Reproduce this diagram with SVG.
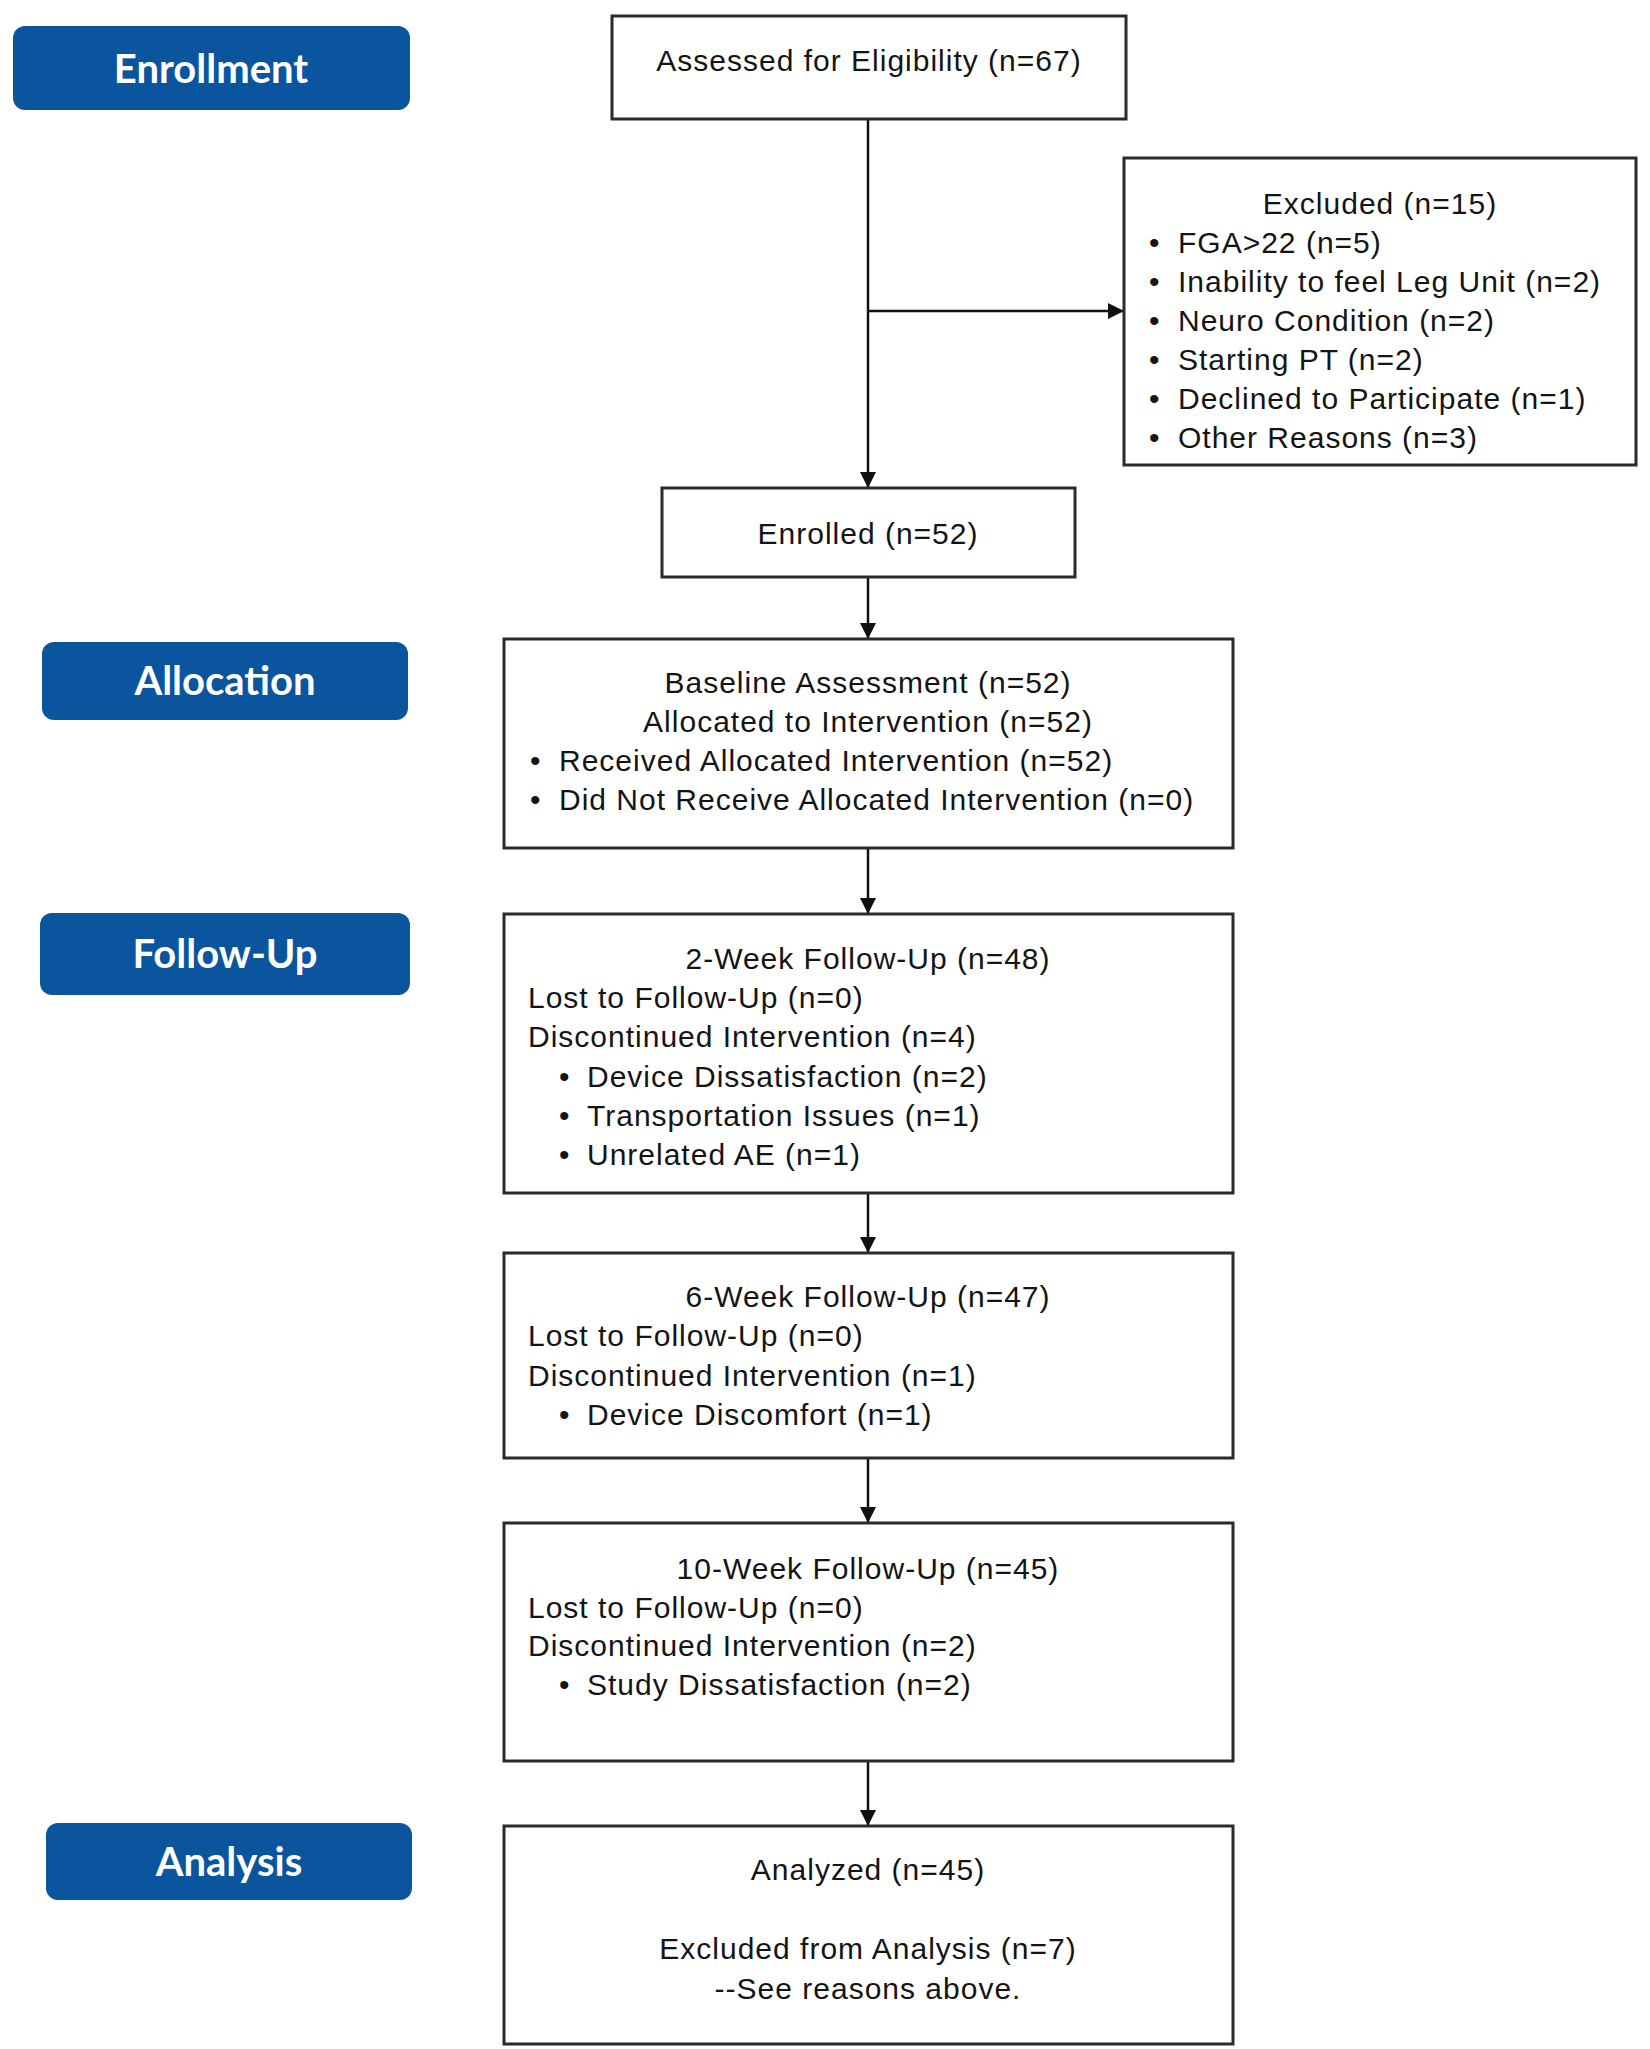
<svg xmlns="http://www.w3.org/2000/svg" width="1650" height="2049" viewBox="0 0 1650 2049">
<defs>
<style>
.box{fill:#ffffff;stroke:#2b2b2b;stroke-width:3}
.pill{fill:#0b549e}
.pt{font-family:Lato,"Open Sans",sans-serif;font-weight:bold;font-size:40px;fill:#ffffff;text-anchor:middle}
.t{font-family:"Liberation Sans",Arial,sans-serif;font-size:30px;letter-spacing:1px;fill:#141414}
.c{text-anchor:middle}
.conn{stroke:#111111;stroke-width:2.5;fill:none}
</style>
<marker id="arr" markerUnits="userSpaceOnUse" markerWidth="17" markerHeight="17" refX="16" refY="8" orient="auto">
<path d="M0,0 L16,8 L0,16 z" fill="#111111"/>
</marker>
</defs>
<rect width="1650" height="2049" fill="#ffffff"/>

<g id="stage-enrollment">
<rect class="pill" x="13" y="26" width="397" height="84" rx="12"/>
<text class="pt" x="211" y="83">Enrollment</text>
</g>
<g id="stage-allocation">
<rect class="pill" x="42" y="642" width="366" height="78" rx="12"/>
<text class="pt" x="225" y="695">Allocation</text>
</g>
<g id="stage-followup">
<rect class="pill" x="40" y="913" width="370" height="82" rx="12"/>
<text class="pt" x="225" y="968">Follow-Up</text>
</g>
<g id="stage-analysis">
<rect class="pill" x="46" y="1823" width="366" height="77" rx="12"/>
<text class="pt" x="229" y="1876">Analysis</text>
</g>

<g id="connectors">
<line class="conn" x1="868" y1="119" x2="868" y2="488" marker-end="url(#arr)"/>
<line class="conn" x1="868" y1="311" x2="1124" y2="311" marker-end="url(#arr)"/>
<line class="conn" x1="868" y1="577" x2="868" y2="639" marker-end="url(#arr)"/>
<line class="conn" x1="868" y1="848" x2="868" y2="914" marker-end="url(#arr)"/>
<line class="conn" x1="868" y1="1193" x2="868" y2="1253" marker-end="url(#arr)"/>
<line class="conn" x1="868" y1="1458" x2="868" y2="1523" marker-end="url(#arr)"/>
<line class="conn" x1="868" y1="1761" x2="868" y2="1826" marker-end="url(#arr)"/>
</g>

<g id="assessed">
<rect class="box" x="612" y="16" width="514" height="103"/>
<text class="t c" x="869" y="71">Assessed for Eligibility (n=67)</text>
</g>

<g id="excluded">
<rect class="box" x="1124" y="158" width="512" height="307"/>
<text class="t c" x="1380" y="214">Excluded (n=15)</text>
<text class="t" x="1149" y="253">•</text><text class="t" x="1178" y="253">FGA&gt;22 (n=5)</text>
<text class="t" x="1149" y="292">•</text><text class="t" x="1178" y="292">Inability to feel Leg Unit (n=2)</text>
<text class="t" x="1149" y="331">•</text><text class="t" x="1178" y="331">Neuro Condition (n=2)</text>
<text class="t" x="1149" y="370">•</text><text class="t" x="1178" y="370">Starting PT (n=2)</text>
<text class="t" x="1149" y="409">•</text><text class="t" x="1178" y="409">Declined to Participate (n=1)</text>
<text class="t" x="1149" y="448">•</text><text class="t" x="1178" y="448">Other Reasons (n=3)</text>
</g>

<g id="enrolled">
<rect class="box" x="662" y="488" width="413" height="89"/>
<text class="t c" x="868" y="544">Enrolled (n=52)</text>
</g>

<g id="baseline">
<rect class="box" x="504" y="639" width="729" height="209"/>
<text class="t c" x="868" y="693">Baseline Assessment (n=52)</text>
<text class="t c" x="868" y="732">Allocated to Intervention (n=52)</text>
<text class="t" x="530" y="771">•</text><text class="t" x="559" y="771">Received Allocated Intervention (n=52)</text>
<text class="t" x="530" y="810">•</text><text class="t" x="559" y="810">Did Not Receive Allocated Intervention (n=0)</text>
</g>

<g id="week2">
<rect class="box" x="504" y="914" width="729" height="279"/>
<text class="t c" x="868" y="969">2-Week Follow-Up (n=48)</text>
<text class="t" x="528" y="1008">Lost to Follow-Up (n=0)</text>
<text class="t" x="528" y="1047">Discontinued Intervention (n=4)</text>
<text class="t" x="559" y="1087">•</text><text class="t" x="587" y="1087">Device Dissatisfaction (n=2)</text>
<text class="t" x="559" y="1126">•</text><text class="t" x="587" y="1126">Transportation Issues (n=1)</text>
<text class="t" x="559" y="1165">•</text><text class="t" x="587" y="1165">Unrelated AE (n=1)</text>
</g>

<g id="week6">
<rect class="box" x="504" y="1253" width="729" height="205"/>
<text class="t c" x="868" y="1307">6-Week Follow-Up (n=47)</text>
<text class="t" x="528" y="1346">Lost to Follow-Up (n=0)</text>
<text class="t" x="528" y="1386">Discontinued Intervention (n=1)</text>
<text class="t" x="559" y="1425">•</text><text class="t" x="587" y="1425">Device Discomfort (n=1)</text>
</g>

<g id="week10">
<rect class="box" x="504" y="1523" width="729" height="238"/>
<text class="t c" x="868" y="1579">10-Week Follow-Up (n=45)</text>
<text class="t" x="528" y="1618">Lost to Follow-Up (n=0)</text>
<text class="t" x="528" y="1656">Discontinued Intervention (n=2)</text>
<text class="t" x="559" y="1695">•</text><text class="t" x="587" y="1695">Study Dissatisfaction (n=2)</text>
</g>

<g id="analyzed">
<rect class="box" x="504" y="1826" width="729" height="218"/>
<text class="t c" x="868" y="1880">Analyzed (n=45)</text>
<text class="t c" x="868" y="1959">Excluded from Analysis (n=7)</text>
<text class="t c" x="868" y="1999">--See reasons above.</text>
</g>
</svg>
